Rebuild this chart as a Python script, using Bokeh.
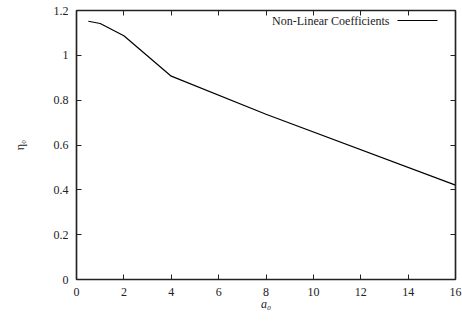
from bokeh.plotting import figure
from bokeh.models import FixedTicker, LinearAxis, Label, BoxAnnotation
from bokeh.embed import file_html
from bokeh.resources import INLINE

# Non-linear coefficient eta_0 against a_0
a0 = [0.5, 1, 2, 4, 8, 16]
eta0 = [1.152, 1.142, 1.087, 0.907, 0.737, 0.421]

x_ticks = [0, 2, 4, 6, 8, 10, 12, 14, 16]
y_ticks = [0, 0.2, 0.4, 0.6, 0.8, 1.0, 1.2]
y_tick_labels = ["0", "0.2", "0.4", "0.6", "0.8", "1", "1.2"]
series_name = "Non-Linear Coefficients"

FONT = "'Liberation Serif'"
INK = "#222222"

p = figure(width=462, height=324, x_range=(0, 16), y_range=(0, 1.2),
           output_backend="svg", toolbar_location=None,
           min_border_left=76, min_border_right=7,
           min_border_top=10, min_border_bottom=45)
p.grid.visible = False
p.outline_line_color = INK
p.outline_line_width = 1.2
p.background_fill_color = "white"
p.border_fill_color = "white"

p.line(a0, eta0, line_color="black", line_width=1.2)


def style_axis(ax, ticks, show_labels):
    ax.ticker = FixedTicker(ticks=ticks)
    ax.major_tick_in = 5
    ax.major_tick_out = 0
    ax.minor_tick_in = 0
    ax.minor_tick_out = 0
    ax.major_tick_line_color = INK
    ax.axis_line_color = INK
    ax.axis_line_width = 1.5
    ax.major_label_text_font = FONT
    ax.major_label_text_font_size = "12px"
    ax.major_label_text_color = INK
    if show_labels:
        ax.major_label_standoff = 8
    else:
        ax.major_label_standoff = 0
        ax.major_label_overrides = {t: "" for t in ticks}


xa = p.xaxis[0]
ya = p.yaxis[0]
style_axis(xa, x_ticks, True)
style_axis(ya, y_ticks, True)
ya.major_label_overrides = {t: s for t, s in zip(y_ticks, y_tick_labels)}

xa.axis_label = "a\u2080"
xa.axis_label_text_font = FONT
xa.axis_label_text_font_style = "italic"
xa.axis_label_text_font_size = "12px"
xa.axis_label_text_color = INK
xa.axis_label_standoff = -2

ya.axis_label = "\u03b7\u2080"
ya.axis_label_text_font = FONT
ya.axis_label_text_font_style = "normal"
ya.axis_label_text_font_size = "12px"
ya.axis_label_text_color = INK
ya.axis_label_standoff = 24

# mirrored ticks on the top and right border
top = LinearAxis()
style_axis(top, x_ticks, False)
p.add_layout(top, "above")
right = LinearAxis()
style_axis(right, y_ticks, False)
p.add_layout(right, "right")

# key in the top-right corner (frame-relative screen units): text, then a line sample
p.add_layout(Label(x=313, y=259, x_units="screen", y_units="screen",
                   text=series_name, text_font=FONT, text_font_size="12px",
                   text_color=INK, text_align="right", text_baseline="middle"))
p.add_layout(BoxAnnotation(left=321, right=361, bottom=258.4, top=259.6,
                           left_units="screen", right_units="screen",
                           bottom_units="screen", top_units="screen",
                           fill_color="black", fill_alpha=1, line_alpha=0))

open("out.html", "w").write(file_html(p, INLINE))
